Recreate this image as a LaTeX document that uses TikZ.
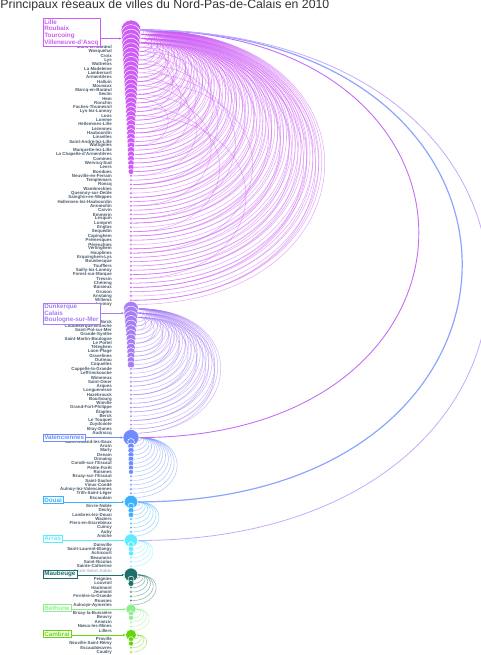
\documentclass[tikz,border=0pt]{standalone}
\usepackage{fontspec}
\setmainfont{Liberation Sans}
\usetikzlibrary{arrows.meta}
\pgfdeclarelayer{bg}
\pgfsetlayers{bg,main}
\definecolor{cL}{RGB}{204,92,245}
\definecolor{cD}{RGB}{166,125,245}
\definecolor{cV}{RGB}{110,140,255}
\definecolor{cDo}{RGB}{60,178,255}
\definecolor{cA}{RGB}{95,235,255}
\definecolor{cM}{RGB}{30,110,105}
\definecolor{cB}{RGB}{140,238,140}
\definecolor{cC}{RGB}{100,215,10}
\definecolor{labc}{RGB}{72,90,106}
\definecolor{labl}{RGB}{170,182,192}
\definecolor{titlec}{RGB}{50,50,50}
\definecolor{longA}{RGB}{195,110,245}
\definecolor{longB}{RGB}{140,165,255}
\definecolor{longC}{RGB}{200,168,255}
\tikzset{
  dot/.style={circle, fill=#1, draw=white, line width=0.5pt, inner sep=0pt, outer sep=0pt},
  citylab/.style={anchor=east, inner sep=0pt, text=labc, font=\bfseries\fontsize{4.4}{4.4}\selectfont},
  hubbox/.style={draw=#1, text=#1, fill=white, line width=0.6pt, anchor=north west,
    font=\bfseries\fontsize{6.3}{6.6}\selectfont, align=left, inner xsep=1.5pt, inner ysep=1.2pt},
  harrow/.style={draw=#1, line width=0.6pt, -{Stealth[length=2.6pt,width=2.2pt]}},
  linkarc/.style={draw=#1, line width=0.55pt, draw opacity=0.5},
  longarc/.style={draw=#1, line width=0.9pt},
  bendtwo/.style={out=0, in=0, looseness=2.33}
}
\newcommand\citygroup[6]{%
  \foreach \lab [count=\k from 0] in {#6}{%
    \pgfmathsetmacro\rr{#4}%
    \pgfmathsetmacro\dd{2*\rr}%
    \pgfmathsetmacro\yy{30+4.29*(#2+\k)}%
    \node[dot=#3, minimum size=\dd pt] (#1\k) at (131,\yy) {};
    \ifnum\k<#5\relax\else
      \node[citylab] (#1t\k) at (112,\yy) {\lab};
    \fi
  }}
\begin{document}
\begin{tikzpicture}[x=1pt,y=-1pt]
\useasboundingbox (0,0) rectangle (480,655);
\node[anchor=base west, inner sep=0pt, text=titlec, font=\fontsize{12.3}{12.5}\selectfont] (title) at (0.3,9) {Principaux réseaux de villes du Nord-Pas-de-Calais en 2010};

% Lille group
\citygroup{L}{0}{cL}{\k<34 ? 10-0.28*\k+0.002*\k*\k : 1.6}{4}{Lille,Roubaix,Tourcoing,Villeneuve-d'Ascq,
Mons-en-Barœul,Wasquehal,Croix,Lys,Wattrelos,La Madeleine,Lambersart,Armentières,Halluin,Mouvaux,
Marcq-en-Barœul,Seclin,Hem,Ronchin,Faches-Thumesnil,Lys-lez-Lannoy,Loos,Lomme,Hellemmes-Lille,Lezennes,
Haubourdin,Linselles,Saint-André-lez-Lille,Wattignies,Marquette-lez-Lille,La Chapelle-d'Armentières,Comines,
Wervicq-Sud,Leers,Bondues,Neuville-en-Ferrain,Templemars,Roncq,Wambrechies,Quesnoy-sur-Deûle,
Sainghin-en-Weppes,Hallennes-lez-Haubourdin,Annœullin,Carvin,Emmerin,Lesquin,Lompret,Englos,Sequedin,
Capinghem,Prémesques,Pérenchies,Verlinghem,Houplines,Erquinghem-Lys,Bousbecque,Toufflers,Sailly-lez-Lannoy,
Forest-sur-Marque,Tressin,Chéreng,Baisieux,Gruson,Anstaing,Willems,Lannoy}

% Dunkerque group
\citygroup{D}{65}{cD}{\k<14 ? 7.5-0.45*\k+0.012*\k*\k : 1.6}{3}{Dunkerque,Calais,Boulogne-sur-Mer,
Marck,Coudekerque-Branche,Saint-Pol-sur-Mer,Grande-Synthe,Saint-Martin-Boulogne,Le Portel,Téteghem,
Loon-Plage,Gravelines,Outreau,Coquelles,Cappelle-la-Grande,Leffrinckoucke,Wimereux,Saint-Omer,Arques,
Longuenesse,Hazebrouck,Bourbourg,Wimille,Grand-Fort-Philippe,Étaples,Berck,Le Touquet,Zuydcoote,
Bray-Dunes,Audruicq}

% Valenciennes group
\citygroup{V}{95}{cV}{\k==0 ? 8 : (\k<9 ? 3.5-0.12*\k : 1.6)}{1}{Valenciennes,
Saint-Amand-les-Eaux,Anzin,Marly,Denain,Onnaing,Condé-sur-l'Escaut,Petite-Forêt,Raismes,
Bruay-sur-l'Escaut,Saint-Saulve,Vieux-Condé,Aulnoy-lez-Valenciennes,Trith-Saint-Léger,Escaudain}

% Douai group
\citygroup{O}{110}{cDo}{\k==0 ? 6.7 : (\k<4 ? 3.3-0.15*\k : 1.6)}{1}{Douai,
Sin-le-Noble,Dechy,Lambres-lez-Douai,Waziers,Flers-en-Escrebieux,Cuincy,Auby,Aniche}

% Arras group
\citygroup{A}{119}{cA}{\k==0 ? 6.6 : (\k<4 ? 3.1-0.15*\k : 1.5)}{1}{Arras,
Dainville,Saint-Laurent-Blangy,Achicourt,Beaurains,Saint-Nicolas,Sainte-Catherine,{\color{labl}Anzin-Saint-Aubin}}

% Maubeuge group
\citygroup{M}{127}{cM}{\k==0 ? 6.8 : (\k<3 ? 3.0 : 1.5)}{1}{Maubeuge,
Feignies,Louvroil,Hautmont,Jeumont,Ferrière-la-Grande,Rousies,Aulnoye-Aymeries}

% Bethune group
\citygroup{B}{135}{cB}{\k==0 ? 5.2 : (\k<3 ? 2.6 : 1.5)}{1}{Béthune,
Bruay-la-Buissière,Beuvry,Annezin,Nœux-les-Mines,Lillers}

% Cambrai group
\citygroup{C}{141}{cC}{\k==0 ? 5.5 : (\k<3 ? 2.6 : 1.5)}{1}{Cambrai,
Proville,Neuville-Saint-Rémy,Escaudœuvres,Caudry}

% hub boxes
\node[hubbox=cL] (boxL) at (42.5,18.3) {Lille\\Roubaix\\Tourcoing\\Villeneuve-d'Ascq};
\node[hubbox=cD] (boxD) at (42.5,302.6) {Dunkerque\\Calais\\Boulogne-sur-Mer};
\node[hubbox=cV] (boxV) at (42.5,433.8) {Valenciennes};
\node[hubbox=cDo] (boxO) at (42.5,496.2) {Douai};
\node[hubbox=cA] (boxA) at (42.5,535.0) {Arras};
\node[hubbox=cM] (boxM) at (42.5,569.6) {Maubeuge};
\node[hubbox=cB] (boxB) at (42.5,604.4) {Béthune};
\node[hubbox=cC] (boxC) at (42.5,630.2) {Cambrai};

\draw[harrow=cL] (boxL.east |- L2) -- (L2.west);
\draw[harrow=cD] (boxD.east |- D1) -- (D1.west);
\draw[harrow=cV] (boxV.east |- V0) -- (V0.west);
\draw[harrow=cDo] (boxO.east |- O0) -- (O0.west);
\draw[harrow=cA] (boxA.east |- A0) -- (A0.west);
\draw[harrow=cM] (boxM.east |- M0) -- (M0.west);
\draw[harrow=cB] (boxB.east |- B0) -- (B0.west);
\draw[harrow=cC] (boxC.east |- C0) -- (C0.west);

\begin{pgfonlayer}{bg}
% Lille links
\foreach \k in {1,...,64} \draw[linkarc=cL] (L0) to[bendtwo] (L\k);
\foreach \k in {5,7,...,63} \draw[linkarc=cL] (L1) to[bendtwo] (L\k);
\foreach \k in {6,9,...,63} \draw[linkarc=cL] (L2) to[bendtwo] (L\k);
\foreach \k in {8,12,...,60} \draw[linkarc=cL] (L3) to[bendtwo] (L\k);
\foreach \a/\b in {4/14,4/22,5/17,5/31,6/26,7/19,8/36,9/24,10/44,11/29,12/52,13/34,15/41,16/27,18/47,20/58}
  \draw[linkarc=cL] (L\a) to[bendtwo] (L\b);
% Dunkerque links
\foreach \k in {1,...,29} \draw[linkarc=cD] (D0) to[bendtwo] (D\k);
\foreach \k in {4,6,...,28} \draw[linkarc=cD] (D1) to[bendtwo] (D\k);
\foreach \k in {5,8,...,29} \draw[linkarc=cD] (D2) to[bendtwo] (D\k);
% small groups
\foreach \k in {1,...,14} \draw[linkarc=cV] (V0) to[bendtwo] (V\k);
\foreach \k in {1,...,8} \draw[linkarc=cDo] (O0) to[bendtwo] (O\k);
\foreach \k in {1,...,6} \draw[linkarc=cA] (A0) to[bendtwo] (A\k);
\foreach \k in {1,...,7} \draw[linkarc=cM] (M0) to[bendtwo] (M\k);
\foreach \k in {1,...,5} \draw[linkarc=cB] (B0) to[bendtwo] (B\k);
\foreach \k in {1,...,4} \draw[linkarc=cC] (C0) to[bendtwo] (C\k);
% long links
\draw[longarc=longA] (L0) to[bendtwo] (V0);
\draw[longarc=longB, line width=1.2pt] (L0) to[bendtwo] (O0);
\draw[longarc=longC, line width=0.8pt] (L0) to[bendtwo] (A0);
\end{pgfonlayer}
\end{tikzpicture}
\end{document}
